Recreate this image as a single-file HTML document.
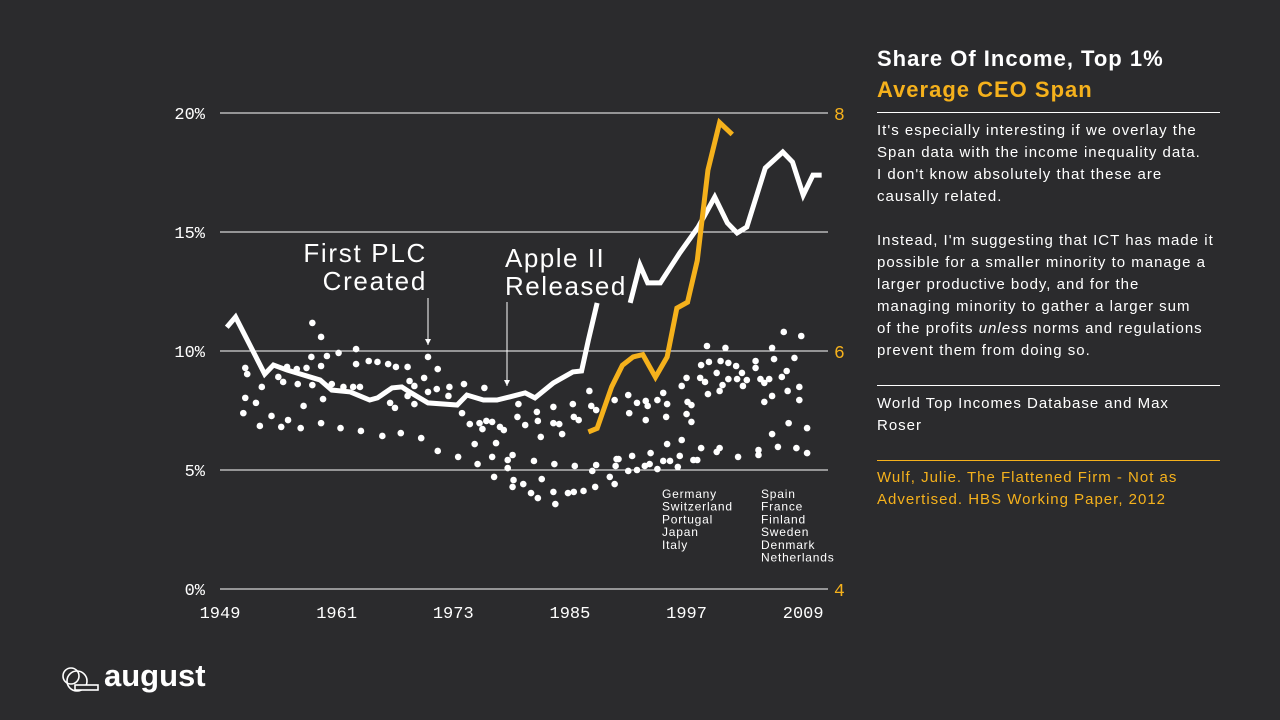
<!DOCTYPE html>
<html><head><meta charset="utf-8">
<style>
body{margin:0;width:1280px;height:720px;background:#2b2b2d;overflow:hidden;font-family:"Liberation Sans",sans-serif;color:#fff;position:relative}
.panel{position:absolute;left:877px;top:0;width:345px}
.t1{position:absolute;top:46px;font-size:22px;font-weight:bold;white-space:nowrap;letter-spacing:1px}
.t2{position:absolute;top:77px;font-size:22px;font-weight:bold;color:#f5b11c;white-space:nowrap;letter-spacing:1px}
.rule{position:absolute;left:0;width:343px;height:1px;background:#fff}
.body{position:absolute;font-size:15px;line-height:22px;color:#fff;white-space:nowrap;letter-spacing:1px}
</style></head><body>
<svg width="1280" height="720" style="position:absolute;left:0;top:0" id="chart"></svg>
<div class="panel">
<div class="t1">Share Of Income, Top 1%</div>
<div class="t2">Average CEO Span</div>
<div class="rule" style="top:112px"></div>
<div class="body" style="top:120px">It's especially interesting if we overlay the<br>Span data with the income inequality data.<br>I don't know absolutely that these are<br>causally related.<br><br>Instead, I'm suggesting that ICT has made it<br>possible for a smaller minority to manage a<br>larger productive body, and for the<br>managing minority to gather a larger sum<br>of the profits <i>unless</i> norms and regulations<br>prevent them from doing so.</div>
<div class="rule" style="top:385px"></div>
<div class="body" style="top:393px">World Top Incomes Database and Max<br>Roser</div>
<div class="rule" style="top:460px;background:#f5b11c"></div>
<div class="body" style="top:467px;color:#f5b11c">Wulf, Julie. The Flattened Firm - Not as<br>Advertised. HBS Working Paper, 2012</div>
</div>
<div style="position:absolute;left:60px;top:664px;width:150px;height:34px">
<svg width="40" height="34" style="position:absolute;left:0;top:0"><circle cx="11" cy="12" r="8" fill="none" stroke="#fff" stroke-width="1.6"/><circle cx="17" cy="17" r="10" fill="none" stroke="#fff" stroke-width="1.6"/><rect x="15" y="21" width="23" height="5" fill="#2b2b2d" stroke="#fff" stroke-width="1.6"/></svg>
<div style="position:absolute;left:44px;top:-6px;font-size:31px;font-weight:bold;letter-spacing:0px">august</div>
</div>
<script>
const years1=[1949.7,1950.6,1953.6,1954.5,1955.9,1959.3,1960.5,1962.4,1964.4,1965.2,1966.7,1967.7,1968.5,1970.4,1973.4,1974.4,1976.1,1977.5,1978.8,1980.4,1981.4,1983.3,1985.3,1986.2,1986.9,1987.8];
const income1=[11.0,11.43,9.03,9.41,9.2,8.78,8.36,8.28,7.94,8.03,8.45,8.49,8.28,7.82,7.73,8.15,7.94,7.94,8.07,8.24,8.03,8.66,9.12,9.16,10.46,12.02];
const years2=[1991.2,1992.2,1993.0,1994.3,1996.3,1998.2,1999.9,2001.2,2002.2,2003.2,2005.1,2006.9,2007.9,2009.0,2010.0,2010.9];
const income2=[12.02,13.61,12.86,12.86,14.12,15.21,16.47,15.38,14.96,15.21,17.69,18.36,17.94,16.55,17.39,17.39];
const spanYears=[1986.9,1987.8,1989.3,1990.4,1991.5,1992.5,1993.8,1995.0,1996.0,1997.1,1998.1,1999.2,2000.4,2001.7];
const spanValues=[5.32,5.35,5.70,5.88,5.95,5.97,5.78,5.95,6.36,6.41,6.76,7.52,7.92,7.82];
const dotYears=[1951.6,1951.8,1953.3,1951.6,1952.7,1951.4,1954.3,1953.1,1955.3,1956.0,1957.3,1957.6,1955.0,1955.5,1957.0,1955.9,1956.9,1957.9,1958.5,1959.4,1958.4,1960.0,1959.4,1961.2,1963.0,1963.0,1964.3,1965.2,1966.3,1967.1,1968.3,1958.5,1959.6,1960.5,1961.7,1962.7,1963.4,1959.4,1961.4,1963.5,1965.7,1967.6,1969.7,1968.5,1969.0,1970.0,1970.4,1971.4,1970.4,1971.3,1968.3,1969.0,1966.5,1967.0,1972.5,1972.6,1974.1,1976.2,1973.9,1974.7,1975.7,1976.4,1977.0,1976.0,1977.8,1978.2,1977.4,1975.2,1971.4,1973.5,1975.5,1977.0,1979.1,1978.6,1978.6,1977.2,1979.2,1980.2,1979.1,1981.0,1981.7,1983.5,1983.3,1984.8,1985.4,1986.4,1987.6,1982.1,1981.3,1983.4,1985.5,1987.3,1987.7,1979.7,1979.6,1980.4,1981.6,1981.7,1982.0,1983.3,1983.3,1983.9,1984.2,1985.3,1985.4,1985.9,1987.0,1987.2,1987.7,1989.6,1989.1,1989.6,1989.8,1991.0,1991.1,1991.9,1992.8,1993.0,1992.8,1994.0,1994.6,1995.0,1994.9,1996.5,1997.0,1997.1,1997.5,1997.0,1997.5,1998.5,1998.4,1998.9,1999.2,1999.3,1999.1,2000.1,2000.4,2000.5,2001.0,2001.3,2001.3,2000.7,2002.1,2002.2,2002.8,2002.7,2003.2,2004.1,2004.1,2004.6,2005.0,2005.0,2005.5,2005.8,2005.8,2006.0,2006.8,2007.0,2007.3,2007.4,2008.1,2008.6,2008.6,2008.8,2007.5,2005.8,2009.4,2006.4,2008.3,2009.4,2004.4,2004.4,2002.3,2000.4,2000.1,1998.5,1997.7,1998.1,1996.5,1996.3,1996.1,1995.3,1994.6,1995.0,1994.0,1993.3,1993.2,1992.7,1991.9,1991.0,1991.4,1990.0,1989.7];
const dotValues=[9.29,9.03,8.49,8.03,7.82,7.39,7.27,6.85,6.81,7.10,6.76,7.69,8.91,8.70,8.61,9.33,9.24,9.29,11.18,10.59,9.75,9.79,9.37,9.92,10.08,9.45,9.58,9.54,9.45,9.33,9.33,8.57,7.98,8.61,8.49,8.49,8.49,6.97,6.76,6.64,6.43,6.55,6.34,8.74,8.53,8.87,9.75,9.24,8.28,8.40,8.11,7.77,7.82,7.61,8.11,8.49,8.61,8.45,7.39,6.93,6.97,7.06,7.02,6.72,6.81,6.68,6.13,6.09,5.80,5.55,5.25,5.55,5.63,5.42,5.08,4.71,4.58,4.41,4.29,4.03,3.82,3.57,4.08,4.03,4.08,4.12,4.29,4.62,5.38,5.25,5.17,4.96,5.21,7.77,7.23,6.89,7.44,7.06,6.39,7.65,6.97,6.93,6.51,7.77,7.23,7.10,8.32,7.69,7.52,7.94,4.71,4.41,5.46,8.15,7.39,7.82,7.90,7.69,7.10,7.94,8.24,7.77,7.23,8.53,8.87,7.86,7.73,7.35,7.02,9.41,8.87,8.70,8.19,9.54,10.21,9.08,8.32,9.58,10.13,9.50,8.82,8.57,9.37,8.82,8.53,9.08,8.78,9.58,9.29,8.82,7.86,8.66,8.82,8.11,10.13,9.66,8.91,10.80,9.16,8.32,9.71,8.49,7.94,10.63,6.97,6.51,6.76,5.97,5.92,5.71,5.84,5.63,5.55,5.92,5.76,5.92,5.42,5.42,6.26,5.59,5.13,5.38,5.38,6.09,5.04,5.71,5.25,5.17,5.00,4.96,5.59,5.46,5.17];
const leftTicks=[0,5,10,15,20];
const leftTickLabels=["0%","5%","10%","15%","20%"];
const rightTicks=[4,6,8];
const xTicks=[1949,1961,1973,1985,1997,2009];

const NS="http://www.w3.org/2000/svg";
const svg=document.getElementById('chart');
const X=y=>220+(y-1949)*9.72;
const YL=v=>589-v*23.8;
const YR=v=>589-(v-4)*119;
function mk(tag,attrs,parent){const e=document.createElementNS(NS,tag);for(const k in attrs)e.setAttribute(k,attrs[k]);(parent||svg).appendChild(e);return e;}
const FONT='"Liberation Mono",monospace';
leftTicks.forEach((t,i)=>{
  const l=mk('line',{x1:220,x2:828,y1:YL(t),y2:YL(t),stroke:'#fff','stroke-width':1});
  
  
  const tx=mk('text',{x:205,y:YL(t)+6,'text-anchor':'end',fill:'#fff','font-size':17,'font-family':FONT});
  tx.textContent=leftTickLabels[i];
  
  
});
rightTicks.forEach(t=>{
  const tx=mk('text',{x:834,y:YR(t)+7,fill:'#f5b11c','font-size':18,'font-family':FONT});
  tx.textContent=t;
  
  
});
xTicks.forEach(t=>{
  const tx=mk('text',{x:X(t),y:618,'text-anchor':'middle',fill:'#fff','font-size':17,'font-family':FONT});
  tx.textContent=t;
  
  
});
dotYears.forEach((y,i)=>{
  const c=mk('circle',{cx:X(y),cy:YL(dotValues[i]),r:3.3,fill:'#fff'});
  
  
});
function line(xs,vs,yf,color,name){
  const p=mk('polyline',{points:xs.map((x,i)=>X(x)+','+yf(vs[i])).join(' '),fill:'none',stroke:color,'stroke-width':5,'stroke-linejoin':'miter'});
  
  
}
line(years1,income1,YL,'#fff','income-line-1');
line(years2,income2,YL,'#fff','income-line-2');
line(spanYears,spanValues,YR,'#f5b11c','ceo-span-line');
function txt(s,x,y,anchor,size,name,ls){const t=mk('text',{x:x,y:y,'text-anchor':anchor,fill:'#fff','font-size':size,'letter-spacing':ls||0,'font-family':'"Liberation Sans",sans-serif'});t.textContent=s;
  
  }
txt('First PLC',427,262,'end',26,'annotation-plc',1.7);
txt('Created',427,290,'end',26,'annotation-plc',1.7);
txt('Apple II',505,267,'start',26,'annotation-apple',1.5);
txt('Released',505,295,'start',26,'annotation-apple',1.5);
function arrow(x,y1,y2,name){const g=mk('g',{});
  
  
  mk('line',{x1:x,x2:x,y1:y1,y2:y2,stroke:'#fff','stroke-width':1},g);
  mk('polygon',{points:`${x-3},${y2-6} ${x+3},${y2-6} ${x},${y2}`,fill:'#fff'},g);}
arrow(428,298,345,'arrow-plc');
arrow(507,302,386,'arrow-apple');
const c1=["Germany","Switzerland","Portugal","Japan","Italy"];
const c2=["Spain","France","Finland","Sweden","Denmark","Netherlands"];
c1.forEach((s,i)=>txt(s,662,498+i*12.7,'start',12,'country-label',0.8));
c2.forEach((s,i)=>txt(s,761,498+i*12.7,'start',12,'country-label',0.8));
</script>
</body></html>
